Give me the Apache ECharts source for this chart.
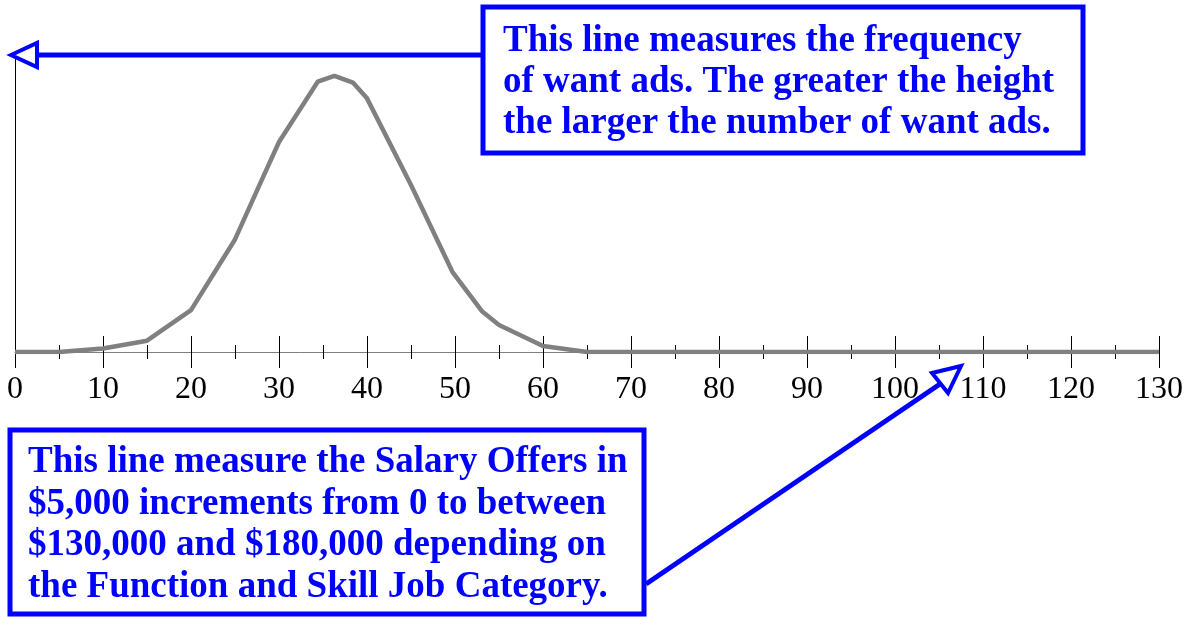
<!DOCTYPE html>
<html>
<head>
<meta charset="utf-8">
<title>Want ads vs salary offers</title>
<script src="https://cdn.jsdelivr.net/npm/echarts@6/dist/echarts.min.js"></script>
<style>
  html, body { margin: 0; padding: 0; background: #fff; }
  #chart { width: 1194px; height: 617px; }
</style>
</head>
<body>
<div id="chart"></div>
<script>
// salary offers in $1,000 (x) and relative frequency of want ads (y)
var salary    = [0, 5, 10, 15, 20, 25, 27.7, 30, 34.4, 36.3, 38.4, 40, 45, 49.7, 53.1, 55, 60, 65, 70, 80, 90, 100, 110, 120, 130];
var frequency = [0, 0, 1.2, 3.8, 14.1, 37.9, 55.7, 70.7, 91, 93, 90.7, 85.4, 56.2, 27, 13.6, 9.1, 2.0, 0, 0, 0, 0, 0, 0, 0, 0];
var xMin = 0, xMax = 130, xStep = 10;

var topNote = 'This line measures the frequency\nof want ads. The greater the height\nthe larger the number of want ads.';
var bottomNote = 'This line measure the Salary Offers in\n$5,000 increments from 0 to between\n$130,000 and $180,000 depending on\nthe Function and Skill Job Category.';

var points = [];
for (var i = 0; i < salary.length; i++) points.push([salary[i], frequency[i]]);

var blue = '#0000ff';
var noteFont = 'bold 37px "Liberation Serif", "Times New Roman", serif';

var myChart = echarts.init(document.getElementById('chart'));
var option = {
    animation: false,
    backgroundColor: '#ffffff',
    grid: { left: 15, right: 35, top: 55, bottom: 265 },
    xAxis: [
        {
            type: 'value', min: xMin, max: xMax, interval: xStep, position: 'bottom',
            axisLine: { show: true, onZero: false, lineStyle: { color: '#808080', width: 1 } },
            axisTick: { show: true, length: 16, lineStyle: { color: '#000', width: 1 } },
            minorTick: { show: true, splitNumber: 2, length: 7, lineStyle: { color: '#000', width: 1 } },
            splitLine: { show: false },
            axisLabel: {
                margin: 22, color: '#000', fontSize: 32,
                fontFamily: '"Liberation Serif", "Times New Roman", serif',
                showMinLabel: true, showMaxLabel: true
            }
        },
        {
            // upper half of the tick marks
            type: 'value', min: xMin, max: xMax, interval: xStep, position: 'bottom',
            axisLine: { show: false, onZero: false },
            axisTick: { show: true, inside: true, length: 16, lineStyle: { color: '#000', width: 1 } },
            minorTick: { show: true, splitNumber: 2, length: 7, lineStyle: { color: '#000', width: 1 } },
            splitLine: { show: false },
            axisLabel: { show: false }
        }
    ],
    yAxis: {
        type: 'value', min: 0, max: 100,
        axisLine: { show: true, onZero: false, lineStyle: { color: '#000', width: 1 } },
        axisTick: { show: false },
        axisLabel: { show: false },
        splitLine: { show: false }
    },
    series: [{
        type: 'line',
        xAxisIndex: 0,
        data: points,
        symbol: 'none',
        z: 3,
        lineStyle: { color: '#808080', width: 4.5 }
    }],
    graphic: [
        // arrow to the vertical axis
        { type: 'line', shape: { x1: 483, y1: 55, x2: 38, y2: 55 }, style: { stroke: blue, lineWidth: 5 }, z: 10 },
        { type: 'polygon', shape: { points: [[11, 55], [37, 43], [37, 67]] }, style: { stroke: blue, fill: '#fff', lineWidth: 4 }, z: 11 },
        {
            type: 'rect', shape: { x: 483, y: 7, width: 600, height: 146 },
            style: { stroke: blue, fill: '#fff', lineWidth: 5 }, z: 10
        },
        {
            type: 'text', x: 503, y: 82, z: 12,
            style: { text: topNote, font: noteFont, fill: blue, lineHeight: 41, textAlign: 'left', textVerticalAlign: 'middle' }
        },
        // arrow to the horizontal axis
        { type: 'line', shape: { x1: 646, y1: 584, x2: 940, y2: 384 }, style: { stroke: blue, lineWidth: 5 }, z: 10 },
        { type: 'polygon', shape: { points: [[961, 366], [932, 373], [948, 393]] }, style: { stroke: blue, fill: '#fff', lineWidth: 4 }, z: 11 },
        {
            type: 'rect', shape: { x: 10, y: 430, width: 634, height: 184 },
            style: { stroke: blue, fill: '#fff', lineWidth: 5 }, z: 10
        },
        {
            type: 'text', x: 28, y: 525, z: 12,
            style: { text: bottomNote, font: noteFont, fill: blue, lineHeight: 41.7, textAlign: 'left', textVerticalAlign: 'middle' }
        }
    ]
};
myChart.setOption(option);
</script>
</body>
</html>
